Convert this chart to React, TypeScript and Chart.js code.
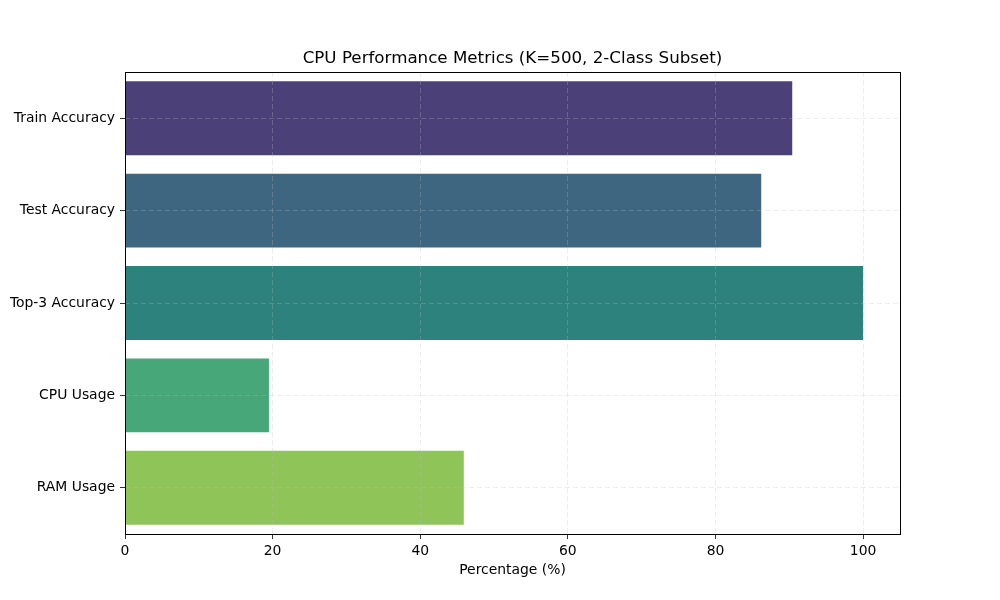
import React, { useEffect, useRef } from "react";
import { Chart, registerables } from "chart.js";

Chart.register(...registerables);

const categories = ["Train Accuracy", "Test Accuracy", "Top-3 Accuracy", "CPU Usage", "RAM Usage"];
const values = [90.4, 86.2, 100.0, 19.5, 45.9];
const barColors = ["#4b4178", "#3e6680", "#2e827d", "#47a778", "#8fc458"];
const xTicks = [0, 20, 40, 60, 80, 100];
const titleText = "CPU Performance Metrics (K=500, 2-Class Subset)";
const xTitle = "Percentage (%)";

const FONT = "'DejaVu Sans', sans-serif";

const framePlugin = {
  id: "frame",
  afterDraw(chart: any) {
    const { ctx, chartArea } = chart;
    ctx.save();
    ctx.strokeStyle = "#000";
    ctx.lineWidth = 1;
    ctx.strokeRect(chartArea.left + 0.5, chartArea.top + 0.5, chartArea.right - chartArea.left, chartArea.bottom - chartArea.top);
    ctx.fillStyle = "#000";
    ctx.font = `16.7px ${FONT}`;
    ctx.textAlign = "center";
    ctx.textBaseline = "alphabetic";
    ctx.fillText(titleText, (chartArea.left + chartArea.right) / 2, chartArea.top - 9);
    ctx.restore();
  },
};

const gridOpts = {
  color: "rgba(190,190,190,0.35)",
  tickColor: "#000",
  tickLength: 5,
  tickBorderDash: [],
  lineWidth: 0.8,
  z: 1,
};

export default function App() {
  const ref = useRef<HTMLCanvasElement | null>(null);
  useEffect(() => {
    if (!ref.current) return;
    const chart = new Chart(ref.current, {
      type: "bar",
      data: {
        labels: categories,
        datasets: [
          {
            data: values,
            backgroundColor: barColors,
            borderWidth: 0,
            barPercentage: 0.8,
            categoryPercentage: 1,
          },
        ],
      },
      options: {
        indexAxis: "y",
        animation: false,
        responsive: false,
        maintainAspectRatio: false,
        devicePixelRatio: 1,
        layout: { padding: { left: 0, right: 100, top: 72, bottom: 0 } },
        plugins: { legend: { display: false }, title: { display: false }, tooltip: { enabled: false } },
        scales: {
          x: {
            type: "linear",
            min: 0,
            max: 105,
            z: 1,
            afterBuildTicks: (scale: any) => {
              scale.ticks = xTicks.map((v) => ({ value: v }));
            },
            afterFit: (scale: any) => {
              scale.height = 66;
            },
            grid: { ...gridOpts } as any,
            border: { display: false, dash: [5, 3] },
            ticks: { color: "#000", font: { family: FONT, size: 13.9 }, padding: 4, maxRotation: 0 },
            title: { display: true, text: xTitle, color: "#000", font: { family: FONT, size: 13.9 }, padding: { top: 4, bottom: 21 } },
          },
          y: {
            type: "category",
            z: 1,
            afterFit: (scale: any) => {
              scale.width = 125;
            },
            grid: { ...gridOpts, offset: false } as any,
            border: { display: false, dash: [5, 3] },
            ticks: { color: "#000", font: { family: FONT, size: 13.9 }, padding: 5 },
          },
        },
      },
      plugins: [framePlugin],
    } as any);
    return () => chart.destroy();
  }, []);
  return (
    <div style={{ position: "fixed", left: 0, top: 0, width: 1000, height: 600, background: "#fff" }}>
      <canvas ref={ref} width={1000} height={600} style={{ width: 1000, height: 600, display: "block" }} />
    </div>
  );
}
